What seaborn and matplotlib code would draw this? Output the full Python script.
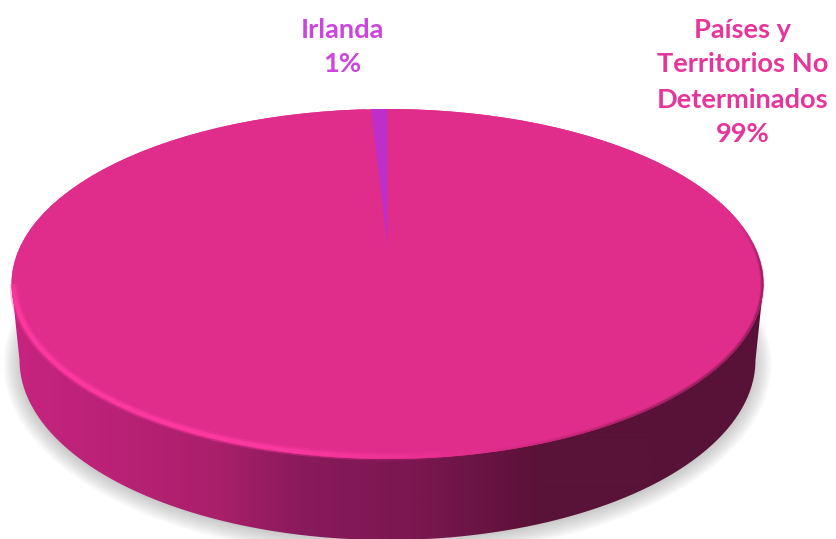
import numpy as np
import matplotlib
matplotlib.use("Agg")
import matplotlib.pyplot as plt
from matplotlib.patches import Ellipse, PathPatch
from matplotlib.path import Path
from matplotlib.collections import LineCollection
from matplotlib.colors import ListedColormap, to_rgba
import seaborn as sns

categories = ["Irlanda", "Países y\nTerritorios No\nDeterminados"]
values = [0.9, 99.1]
shown_percent = [1, 99]
colors = ["#BE2EC8", "#E02D8B"]
label_colors = ["#CC45DC", "#E6359B"]

W, H = 836, 539
CX, CY, A, B = 387.5, 284.0, 376.0, 175.0   # top face ellipse in pixels
BCY, BA, BB = 360.0, 368.0, 180.0           # lower rim ellipse in pixels
APEX_Y = 245.0

sns.set_theme(style="white")
plt.rcParams["font.family"] = ["Lato", "DejaVu Sans"]

def dx(px):
    return (px - CX) / A
def dy(py):
    return (CY - py) / B

fig = plt.figure(figsize=(W / 100, H / 100), dpi=100, facecolor="white")
ax = fig.add_axes([0, 0, 1, 1])

# top face drawn by the pie
wedges, _ = ax.pie(values, colors=colors, startangle=90, counterclock=True,
                   radius=1, center=(0, 0), wedgeprops=dict(linewidth=0))
ax.set_aspect("auto")
ax.set_xlim(dx(0), dx(W))
ax.set_ylim(dy(H), dy(0))
ax.axis("off")

base = Ellipse((0, 0), 2, 2, fc=colors[1], ec="none", zorder=3)
ax.add_patch(base)
wedges[1].set_zorder(3.1)
wedges[0].set_zorder(3.2)
wedges[0].set_center((0, dy(APEX_Y)))
wedges[0].set_radius(dy(109) - dy(APEX_Y) + 0.03)
wedges[0].set_clip_on(True)
wedges[0].set_clip_path(base)

# soft shadow
for g in np.linspace(14, -6, 14):
    ax.add_patch(Ellipse((0, dy(BCY + 4)), 2 * (BA + 2 + g) / A, 2 * (BB + g) / B,
                         fc="#555555", ec="none", alpha=0.028, zorder=1))

# side wall gradient
t = np.linspace(np.pi, 2 * np.pi, 200)
xb, yb = dx(CX + BA * np.cos(t)), dy(BCY - BB * np.sin(t))
verts = np.r_[[[-1, 0]], np.c_[xb, yb], [[1, 0]], [[-1, 0]]]
side_path = Path(verts)
side_stops = ["#C7247F", "#BC2278", "#A91F6A", "#8A1A5C", "#7A1750", "#5A1238", "#581238"]
stop_pos = [12, 100, 220, 300, 420, 540, 770]
xs = np.arange(12, 770)
ramp = sns.blend_palette(side_stops, n_colors=256)
pos = np.interp(xs, stop_pos, np.linspace(0, 255, len(stop_pos)))
im = ax.imshow(pos[None, :], cmap=ListedColormap(ramp), vmin=0, vmax=255,
               extent=(dx(12), dx(770), dy(H + 20), dy(200)), aspect="auto", zorder=2)
patch = PathPatch(side_path, transform=ax.transData, fc="none", ec="none")
ax.add_patch(patch)
im.set_clip_path(patch)
ax.set_xlim(dx(0), dx(W))
ax.set_ylim(dy(H), dy(0))

# rim highlight (lower left) and dark edge (right)
ang = np.radians(np.linspace(180, 285, 240))
pts = np.c_[0.994 * np.cos(ang), 0.985 * np.sin(ang)]
segs = np.stack([pts[:-1], pts[1:]], axis=1)
fade = np.clip(np.interp(np.degrees(ang[:-1]), [180, 186, 250, 285], [0.5, 1, 0.95, 0]), 0, 1)
for lw, k in [(6.0, 0.4), (3.0, 0.95)]:
    cols = [to_rgba("#FF3AA2", a * k) for a in fade]
    ax.add_collection(LineCollection(segs, colors=cols, linewidths=lw, zorder=4, capstyle="butt"))

ang = np.radians(np.linspace(285, 380, 240))
pts = np.c_[0.997 * np.cos(ang), 0.995 * np.sin(ang)]
segs = np.stack([pts[:-1], pts[1:]], axis=1)
fade = np.interp(np.degrees(ang[:-1]), [285, 320, 365, 380], [0, 0.55, 0.55, 0])
for lw, k in [(3.0, 0.35), (1.2, 0.7)]:
    cols = [to_rgba("#5A1238", a * k) for a in fade]
    ax.add_collection(LineCollection(segs, colors=cols, linewidths=lw, zorder=4, capstyle="butt"))

# labels
label_xy = [(342, 47), (743, 82)]
for name, pct, col, (px, py) in zip(categories, shown_percent, label_colors, label_xy):
    ax.text(dx(px), dy(py), f"{name}\n{pct}%", color=col, ha="center", va="center",
            fontsize=19.6, fontweight="bold", linespacing=1.55, zorder=6)

fig.savefig("out.png", dpi=100, facecolor="white")
